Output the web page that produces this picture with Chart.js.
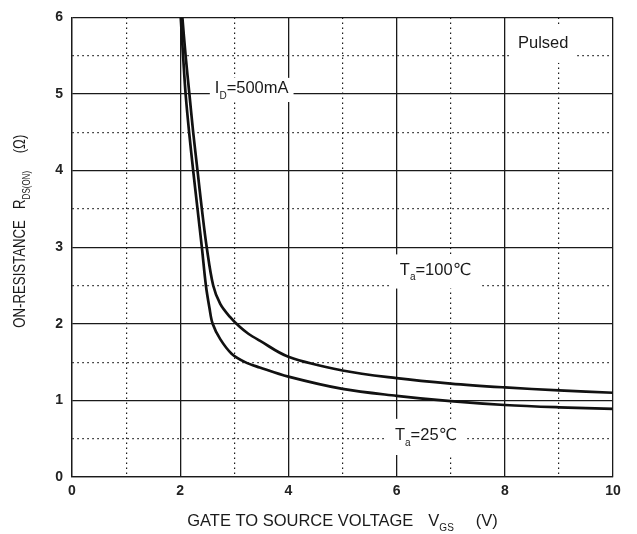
<!DOCTYPE html>
<html>
<head>
<meta charset="utf-8">
<script src="https://cdn.jsdelivr.net/npm/chart.js@4/dist/chart.umd.min.js"></script>
<style>
html, body { margin: 0; padding: 0; background: #fff; }
#wrap { width: 637px; height: 534px; position: relative; }
</style>
</head>
<body>
<div id="wrap"><canvas id="chart"></canvas></div>
<script>
// On-resistance vs gate voltage, ID = 500mA, pulsed
const vgs25 = [2.01, 2.053, 2.10, 2.165, 2.24, 2.32, 2.40, 2.475, 2.54, 2.60, 2.74, 2.95, 3.20, 3.47, 4, 5, 6, 7, 8, 9, 10];
const ron25 = [6.0, 5.5, 5.0, 4.5, 4.0, 3.5, 3.0, 2.5, 2.21, 2.0, 1.80, 1.61, 1.50, 1.43, 1.31, 1.15, 1.06, 0.99, 0.94, 0.91, 0.89];

const vgs100 = [2.04, 2.10, 2.17, 2.24, 2.32, 2.40, 2.49, 2.61, 2.74, 2.92, 3.10, 3.26, 3.47, 4, 5, 6, 7, 8, 9, 10];
const ron100 = [6.0, 5.5, 5.0, 4.5, 4.0, 3.5, 3.0, 2.5, 2.26, 2.09, 1.96, 1.87, 1.78, 1.57, 1.39, 1.29, 1.22, 1.17, 1.13, 1.10];

const xRange = [0, 10];
const yRange = [0, 6];

// in-plot notes, anchored in data units; sub = subscript piece
const notes = [
    { x: 8.71, y: 5.60, align: 'center', parts: [{ t: 'Pulsed' }], padX: 6, padY: 9 },
    { x: 2.64, y: 5.01, align: 'left', parts: [{ t: 'I' }, { t: 'D', sub: true }, { t: '=500mA' }], padX: 5, padY: 3 },
    { x: 6.06, y: 2.64, align: 'left', parts: [{ t: 'T' }, { t: 'a', sub: true }, { t: '=100\u2103' }], padX: 9, padY: 8 },
    { x: 5.97, y: 0.48, align: 'left', parts: [{ t: 'T' }, { t: 'a', sub: true }, { t: '=25\u2103' }], padX: 9, padY: 9 }
];

const FONT = '"Liberation Sans", Arial, "DejaVu Sans", sans-serif';
const INK = '#1a1a1a';

function toPts(xs, ys) {
    return xs.map((x, i) => ({ x: x, y: ys[i] }));
}

// width of a run of text with subscripts
function richWidth(ctx, parts, size) {
    let w = 0;
    parts.forEach(p => {
        ctx.font = (p.sub ? Math.round(size * 0.62) : size) + 'px ' + FONT;
        w += ctx.measureText(p.t).width + (p.gap || 0);
    });
    return w;
}

function drawRich(ctx, parts, x, y, size) {
    let cx = x;
    parts.forEach(p => {
        cx += p.gap || 0;
        const s = p.sub ? Math.round(size * 0.62) : size;
        ctx.font = s + 'px ' + FONT;
        ctx.fillText(p.t, cx, p.sub ? y + size * 0.32 : y);
        cx += ctx.measureText(p.t).width;
    });
}

const labelsPlugin = {
    id: 'labels',
    afterDraw(chart) {
        const ctx = chart.ctx;
        const xs = chart.scales.x, ys = chart.scales.y;
        const size = 16.5;
        ctx.save();
        ctx.textBaseline = 'alphabetic';

        notes.forEach(n => {
            const w = richWidth(ctx, n.parts, size);
            let px = xs.getPixelForValue(n.x);
            const py = ys.getPixelForValue(n.y);
            if (n.align === 'center') px -= w / 2;
            ctx.fillStyle = '#fff';
            ctx.fillRect(px - n.padX, py - size * 0.75 - n.padY, w + n.padX * 2, size * 1.1 + n.padY * 2);
            ctx.fillStyle = INK;
            drawRich(ctx, n.parts, px, py, size);
        });

        // x axis title
        const xt = [
            { t: 'GATE TO SOURCE VOLTAGE' },
            { t: 'V', gap: 15 },
            { t: 'GS', sub: true },
            { t: '(V)', gap: 22 }
        ];
        const xw = richWidth(ctx, xt, size);
        const xMid = (xs.left + xs.right) / 2;
        drawRich(ctx, xt, xMid - xw / 2, chart.height - 8, size);

        // y axis title, rotated and a little condensed along the text
        const yt = [
            { t: 'ON-RESISTANCE' },
            { t: 'R', gap: 14 },
            { t: 'DS(ON)', sub: true },
            { t: '(\u03a9)', gap: 22 }
        ];
        const squeeze = 0.8;
        const yw = richWidth(ctx, yt, size) * squeeze;
        ctx.translate(25, (ys.top + ys.bottom) / 2 - 16);
        ctx.rotate(-Math.PI / 2);
        ctx.scale(squeeze, 1);
        drawRich(ctx, yt, -yw / 2 / squeeze, 0, size);
        ctx.restore();
    }
};

// solid grid on major values, dotted between
function gridDash(major) {
    return ctx => {
        if (!ctx.tick) return [];
        return ctx.tick.value % major === 0 ? [] : [1.5, 3.5];
    };
}

new Chart(document.getElementById('chart'), {
    type: 'line',
    data: {
        datasets: [
            { label: 'Ta=25', data: toPts(vgs25, ron25) },
            { label: 'Ta=100', data: toPts(vgs100, ron100) }
        ]
    },
    options: {
        responsive: true,
        maintainAspectRatio: false,
        animation: false,
        layout: { padding: { top: 16, right: 24, left: 0, bottom: 0 } },
        elements: {
            line: { borderColor: '#111', borderWidth: 2.7, tension: 0.35, fill: false },
            point: { radius: 0 }
        },
        plugins: {
            legend: { display: false },
            tooltip: { enabled: false }
        },
        scales: {
            x: {
                type: 'linear',
                min: xRange[0],
                max: xRange[1],
                afterFit: s => { s.height = 57; },
                ticks: {
                    stepSize: 1,
                    autoSkip: false,
                    maxRotation: 0,
                    padding: 6,
                    color: '#222',
                    font: { family: FONT, size: 14, weight: 'bold' },
                    callback: v => (v % 2 === 0 ? v : '')
                },
                grid: {
                    drawTicks: false,
                    color: INK,
                    lineWidth: c => (c.tick && c.tick.value % 2 !== 0 ? 1.2 : 1.3)
                },
                border: { display: true, color: INK, width: 1.3, dash: gridDash(2) }
            },
            y: {
                type: 'linear',
                min: yRange[0],
                max: yRange[1],
                afterFit: s => { s.width = 72; },
                ticks: {
                    stepSize: 0.5,
                    autoSkip: false,
                    padding: 9,
                    color: '#222',
                    font: { family: FONT, size: 14, weight: 'bold' },
                    callback: v => (v % 1 === 0 ? v : '')
                },
                grid: {
                    drawTicks: false,
                    color: INK,
                    lineWidth: c => (c.tick && c.tick.value % 1 !== 0 ? 1.2 : 1.3)
                },
                border: { display: true, color: INK, width: 1.3, dash: gridDash(1) }
            }
        }
    },
    plugins: [labelsPlugin]
});
</script>
</body>
</html>
